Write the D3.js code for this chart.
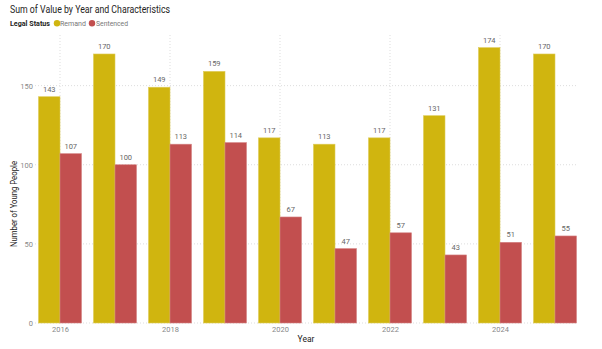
<!DOCTYPE html>
<html><head><meta charset="utf-8">
<script src="https://cdn.jsdelivr.net/npm/d3@7"></script>
<style>body{margin:0;background:#fff;}</style>
</head><body><svg id="c" width="602" height="349"></svg>
<script>
const years = [2016,2017,2018,2019,2020,2021,2022,2023,2024,2025];
const remand = [143,170,149,159,117,113,117,131,174,170];
const sentenced = [107,100,113,114,67,47,57,43,51,55];
const yTicks = [0,50,100,150];
const xTicks = [2016,2018,2020,2022,2024];
const seriesNames = ["Remand","Sentenced"];
const colors = ["#D0B50F","#C24F4F"];

const svg = d3.select("#c");
const font = 'Roboto,"Segoe UI",sans-serif';
svg.attr("font-family",font);
const x = d3.scaleLinear().domain([2016,2025]).range([60,555]);
const y = d3.scaleLinear().domain([0,182]).range([323,35]);
const bw = 21.5;

function fit(sel, w){
  sel.attr("textLength", w).attr("lengthAdjust","spacingAndGlyphs");
  return sel;
}

// title
fit(svg.append("text").attr("x",10).attr("y",13).attr("font-size",10.5).attr("fill","#252423")
  .text("Sum of Value by Year and Characteristics"),160);
// legend
const lg = svg.append("g");
fit(lg.append("text").attr("x",10).attr("y",26).attr("font-size",8).attr("font-weight","bold").attr("fill","#252423").text("Legal Status"),40);
const legPos = [[57,60,26],[92,96,32]];
seriesNames.forEach((n,i)=>{
  lg.append("circle").attr("cx",legPos[i][0]).attr("cy",23.3).attr("r",3.2).attr("fill",colors[i]);
  fit(lg.append("text").attr("x",legPos[i][1]).attr("y",26).attr("font-size",8).attr("fill","#777").text(n),legPos[i][2]);
});

// gridlines
svg.append("g").selectAll("line").data(yTicks).join("line")
  .attr("x1",35).attr("x2",578).attr("y1",d=>y(d)).attr("y2",d=>y(d))
  .attr("stroke","#ddd").attr("stroke-dasharray","1,2");
svg.append("g").selectAll("line").data(xTicks).join("line")
  .attr("x1",d=>x(d)).attr("x2",d=>x(d)).attr("y1",35).attr("y2",323)
  .attr("stroke","#ddd").attr("stroke-dasharray","1,2");

// y axis
const ya = d3.axisLeft(y).tickValues(yTicks).tickSize(0).tickPadding(0);
const yg = svg.append("g").attr("transform","translate(33,0)").call(ya);
yg.select(".domain").remove();
yg.selectAll("text").attr("font-size",7.5).attr("fill","#888").attr("font-family",font);

// x axis
const xa = d3.axisBottom(x).tickValues(xTicks).tickFormat(d3.format("d")).tickSize(0).tickPadding(0);
const xg = svg.append("g").attr("transform","translate(0,327)").call(xa);
xg.select(".domain").remove();
xg.selectAll("text").attr("font-size",7.5).attr("fill","#888").attr("font-family",font);

// axis titles
fit(svg.append("text").attr("transform","translate(17,204) rotate(-90)").attr("text-anchor","middle")
  .attr("font-size",8.5).attr("fill","#252423").text("Number of Young People"),86);
svg.append("text").attr("x",306).attr("y",342).attr("text-anchor","middle")
  .attr("font-size",8.5).attr("fill","#252423").text("Year");

// bars
const series = [remand, sentenced];
series.forEach((vals,si)=>{
  const g = svg.append("g");
  const dx = si===0 ? -bw : 0;
  g.selectAll("rect").data(vals).join("rect")
    .attr("x",(d,i)=>x(years[i])+dx).attr("width",bw)
    .attr("y",d=>y(d)).attr("height",d=>y(0)-y(d))
    .attr("fill",colors[si]).attr("stroke",d3.interpolateRgb(colors[si],"#fff")(0.3)).attr("stroke-width",0.6);
  g.selectAll("text").data(vals).join("text")
    .attr("x",(d,i)=>x(years[i])+dx+bw/2).attr("y",d=>y(d)-5)
    .attr("text-anchor","middle").attr("font-size",7.5).attr("fill","#666")
    .text(d=>d);
});
</script></body></html>
